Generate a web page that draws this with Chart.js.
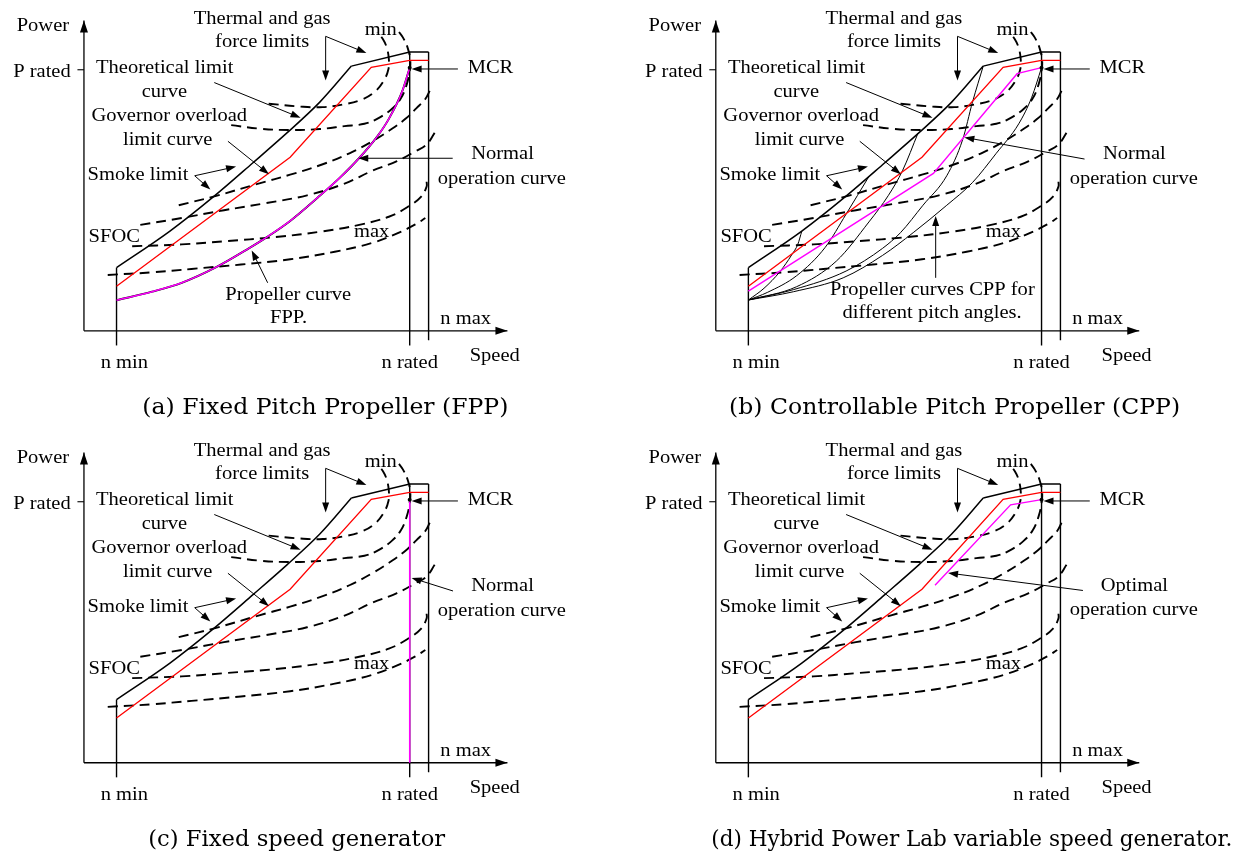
<!DOCTYPE html>
<html>
<head>
<meta charset="utf-8">
<script src="https://cdn.jsdelivr.net/npm/chart.js@4.4.1/dist/chart.umd.min.js"></script>
<style>
  html, body { margin: 0; padding: 0; background: #fff; width: 1240px; height: 857px; overflow: hidden; }
  .panel { position: absolute; }
  canvas { display: block; }
</style>
</head>
<body>
<div class="panel" style="left:0;top:0"><canvas id="ca" width="620" height="432"></canvas></div>
<div class="panel" style="left:620px;top:0"><canvas id="cb" width="620" height="432"></canvas></div>
<div class="panel" style="left:0;top:432px"><canvas id="cc" width="620" height="425"></canvas></div>
<div class="panel" style="left:620px;top:432px"><canvas id="cd" width="620" height="425"></canvas></div>
<script>
// ---- Operating envelope (speed in % of rated, power in % of rated) ----
const nMin = 10, nRated = 100, nMax = 105.8, pRated = 100;
const axisTop = 118.9, axisRight = 130;

const theoreticalLimit = [[10,24.2],[26.4,38.2],[39.7,51.3],[51.8,64.3],[62.4,75.9],[72.4,87.6],[82.1,101.4]];
const thermalLimit     = [[82.1,101.4],[100,106.8],[105.8,106.8]];
const governorLimit    = [[10,17.1],[63.3,66.5],[88.2,100.9],[100,103.6],[105.8,103.6]];
const mcrPoint         = [[100,100.8]];

// SFOC contour lines, from the minimum island outwards
const sfocMin = [[56.7,87.0],[66.4,85.9],[73.3,85.7],[80,86.8],[85.5,88.7],[89.4,91.7],[92.1,95.9],[93.5,100.4],[93.6,104.1],[93,108.3],[91.8,111.7],[90,114.3]];
const sfoc2   = [[45.2,78.8],[54.2,77.4],[63.3,76.9],[72.4,77.3],[80,78.4],[86.1,79.3],[90,81.2],[94.5,85],[97.3,89.1],[99.1,94.4],[100,99.6],[100.2,103.4],[99.4,108.3],[97.9,112.4],[96.4,115]];
const sfoc3   = [[29.1,48.1],[40.6,51.7],[53.3,56.3],[63.3,59.8],[73.3,63.8],[81.5,68],[88.5,72.6],[94.2,77.1],[98.8,81.3],[102.1,85.3],[104.8,88.8],[106.2,92.1]];
const sfoc4   = [[17.3,40.6],[30,43.2],[43,46.2],[55.8,48.9],[68.5,51.9],[80,56.4],[88.5,61.3],[96.1,65.0],[101.8,68.8],[105.2,71.4],[107.7,75.9]];
const sfoc5   = [[14.8,32.4],[30,33.1],[43,34.3],[58.8,35.9],[73.3,38.1],[84.5,40.6],[93.6,43.7],[99.7,47.7],[103.6,51.5],[105.2,55.3],[105.2,57.1]];
const sfocMax = [[7.3,21.4],[20.9,22.4],[33,23.7],[48.2,25.4],[63.3,27.4],[77,30.3],[88.5,33.7],[96.7,37.6],[101.8,40.8],[104.8,43.2]];

// (a) fixed pitch propeller law
const propellerFPP = [[10,11.7],[20.9,15.0],[30,18.4],[40.6,24.4],[50.6,31.6],[56.4,36.1],[63.3,42.1],[71.8,51.1],[78.5,58.6],[84.5,66.2],[90,74.4],[93.6,81.2],[97.6,91.4],[100,100.8]];

// (b) controllable pitch propeller curves, one per pitch angle
const cppPitch1 = [[10,11.8],[14.8,16.3],[19.7,22.7],[23.3,29.1],[25.2,33.2],[26.4,38.2]];
const cppPitch2 = [[10,11.8],[15.8,14.7],[24.8,21.1],[33.6,32],[40,44.7],[47,59.1]];
const cppPitch3 = [[10,11.8],[24.8,16.9],[37,26.7],[47,41.7],[53,51.9],[57.3,61.3],[62.1,75.8]];
const cppPitch4 = [[10,11.8],[23.9,15.8],[40,22.9],[51.2,31.6],[56.7,37.6],[63.6,48.1],[70.9,59.4],[75.8,73.3],[78.8,87.6],[82.1,101.4]];
const cppPitch5 = [[10,11.8],[23.9,15.0],[39.1,20.3],[51.2,28.9],[60.6,37.6],[70.9,48.1],[78.8,56.8],[86.1,68.0],[93,79.3],[97,89.5],[100,100.8]];
const operationCPP = [[10,15.2],[66.8,60.3],[92.5,98.5],[100,100.8]];

// (c) fixed speed generator, (d) variable speed generator
const operationFixed  = [[100,0],[100,100.8]];
const operationHybrid = [[67.3,68],[90.5,98.8],[100,100.8]];

// ---- drawing ----
const PX_X = 3.3, PX_Y = 2.66;
const RED = '#ff0000', MAGENTA = '#ff00ff', BLACK = '#000';
const LABEL_FONT = '18px "Liberation Serif", "Times New Roman", serif';
const LABEL_STRETCH = 1.14;
const CAPTION_FONT = '23px "DejaVu Serif", serif';

const pts = a => a.map(([x, y]) => ({x, y}));
function line(data, color, width, extra) {
  return Object.assign({
    data: pts(data), showLine: true, borderColor: color, backgroundColor: color,
    borderWidth: width, pointRadius: 0, fill: false, tension: 0
  }, extra || {});
}
const dashed = d => line(d, BLACK, 1.9, {borderDash: [10, 6], tension: 0.4, order: 6});

function commonDatasets() {
  return [
    line([[0,0],[axisRight,0]], BLACK, 1.3, {order: 9}),
    line([[0,0],[0,axisTop]], BLACK, 1.3, {order: 9}),
    line([[-2,pRated],[0,pRated]], BLACK, 1.1, {order: 9}),
    line([[nMin,-5.6],[nMin,24.2]], BLACK, 1.4, {order: 4}),
    line([[nRated,-5.6],[nRated,106.8]], BLACK, 1.4, {order: 4}),
    line([[nMax,-3.6],[nMax,106.8]], BLACK, 1.4, {order: 4}),
    line(theoreticalLimit, BLACK, 1.5, {cubicInterpolationMode: 'monotone', order: 3}),
    line(thermalLimit, BLACK, 1.5, {order: 3}),
    line(governorLimit, RED, 1.3, {order: 2}),
    line(mcrPoint, BLACK, 0, {showLine: false, pointRadius: 2, order: 0}),
    dashed(sfocMin), dashed(sfoc2), dashed(sfoc3), dashed(sfoc4), dashed(sfoc5), dashed(sfocMax)
  ];
}

const commonLabels = [
  ['Power', -12.6, 116.7], ['P rated', -12.9, 99],
  ['Thermal and gas', 54.7, 119.5], ['force limits', 54.7, 110.5], ['min', 91.1, 115.0],
  ['Theoretical limit', 24.8, 100.4], ['curve', 24.7, 91.4],
  ['Governor overload', 26.2, 82], ['limit curve', 25.7, 72.9],
  ['Smoke limit', 16.6, 59.7], ['SFOC', 9.3, 35.7], ['max', 88.3, 37.6],
  ['MCR', 124.8, 100.5], ['n max', 117.2, 4.4], ['n min', 12.4, -12.4],
  ['n rated', 100, -12.4], ['Speed', 126.1, -9.9]
];
const commonArrows = [
  [74.2,112.8, 74.2,95.9], [74.2,112.8, 86.7,106.4],
  [40,95.1, 66.5,81.6], [44.2,72.6, 56.8,60.0],
  [34,59.4, 46.7,62.9], [34,59.4, 38.8,54.1],
  [114.8,100.3, 100.6,100.3]
];

const panels = [
  { id: 'ca', w: 620, h: 432, ox: 81, oy: 333,
    caption: ['(a) Fixed Pitch Propeller (FPP)', 74.1, -29.6, 366],
    datasets: [
      line(propellerFPP, BLACK, 1.9, {cubicInterpolationMode: 'monotone', order: 1}),
      line(propellerFPP, MAGENTA, 1.5, {cubicInterpolationMode: 'monotone', order: 0})
    ],
    labels: [['Normal', 128.5, 67.8], ['operation curve', 128.3, 58.2],
             ['Propeller curve', 62.7, 13.6], ['FPP.', 62.8, 4.9]],
    arrows: [[113.2,66.1, 84.2,66.1], [56.4,18.4, 51.5,30.8]] },
  { id: 'cb', w: 620, h: 432, ox: 93, oy: 333,
    caption: ['(b) Controllable Pitch Propeller (CPP)', 73.3, -29.6, 451],
    datasets: [
      line(cppPitch1, BLACK, 1, {cubicInterpolationMode: 'monotone', order: 5}),
      line(cppPitch2, BLACK, 1, {cubicInterpolationMode: 'monotone', order: 5}),
      line(cppPitch3, BLACK, 1, {cubicInterpolationMode: 'monotone', order: 5}),
      line(cppPitch4, BLACK, 1, {cubicInterpolationMode: 'monotone', order: 5}),
      line(cppPitch5, BLACK, 1, {cubicInterpolationMode: 'monotone', order: 5}),
      line(operationCPP, MAGENTA, 1.4, {order: 0})
    ],
    labels: [['Normal', 128.5, 67.8], ['operation curve', 128.3, 58.2],
             ['Propeller curves CPP for', 66.5, 15.5], ['different pitch angles.', 66.4, 6.8]],
    arrows: [[113.2,65.8, 76.3,74.1], [67.5,20.3, 67.5,44.0]] },
  { id: 'cc', w: 620, h: 425, ox: 81, oy: 333,
    caption: ['(c) Fixed speed generator', 65.3, -29.6, 297],
    datasets: [ line(operationFixed, MAGENTA, 1.5, {order: 0}) ],
    labels: [['Normal', 128.5, 67.8], ['operation curve', 128.3, 58.2]],
    arrows: [[113.3,65.8, 100.6,70.8]] },
  { id: 'cd', w: 620, h: 425, ox: 93, oy: 333,
    caption: ['(d) Hybrid Power Lab variable speed generator.', 78.6, -29.6, 521],
    datasets: [ line(operationHybrid, MAGENTA, 1.4, {order: 0}) ],
    labels: [['Optimal', 128.5, 67.7], ['operation curve', 128.3, 58.3]],
    arrows: [[112.7,66, 71.3,72.7]] }
];

function arrowHead(ctx, x0, y0, x1, y1, len, half) {
  const a = Math.atan2(y1 - y0, x1 - x0);
  ctx.beginPath();
  ctx.moveTo(x1, y1);
  ctx.lineTo(x1 - len * Math.cos(a) + half * Math.sin(a), y1 - len * Math.sin(a) - half * Math.cos(a));
  ctx.lineTo(x1 - len * Math.cos(a) - half * Math.sin(a), y1 - len * Math.sin(a) + half * Math.cos(a));
  ctx.closePath();
  ctx.fill();
}

function stretchedText(ctx, text, x, y, sx) {
  ctx.save();
  ctx.translate(x, y);
  ctx.scale(sx, 1);
  ctx.fillText(text, 0, 0);
  ctx.restore();
}

const annotate = {
  id: 'annotate',
  afterDatasetsDraw(chart, args, opts) {
    const ctx = chart.ctx, sx = chart.scales.x, sy = chart.scales.y;
    const X = u => sx.getPixelForValue(u), Y = v => sy.getPixelForValue(v);
    ctx.save();
    ctx.fillStyle = BLACK; ctx.strokeStyle = BLACK;
    // axis arrow heads
    arrowHead(ctx, X(0), Y(0), X(axisRight), Y(0), 12, 4);
    arrowHead(ctx, X(0), Y(0), X(0), Y(axisTop), 12, 4);
    // pointer arrows
    ctx.lineWidth = 1;
    opts.arrows.forEach(([u0, v0, u1, v1]) => {
      const x0 = X(u0), y0 = Y(v0), x1 = X(u1), y1 = Y(v1);
      const a = Math.atan2(y1 - y0, x1 - x0);
      ctx.beginPath();
      ctx.moveTo(x0, y0);
      ctx.lineTo(x1 - 6 * Math.cos(a), y1 - 6 * Math.sin(a));
      ctx.stroke();
      arrowHead(ctx, x0, y0, x1, y1, 10, 3.5);
    });
    // labels
    ctx.font = LABEL_FONT;
    ctx.textAlign = 'center';
    ctx.textBaseline = 'middle';
    opts.labels.forEach(([t, u, v]) => stretchedText(ctx, t, X(u), Y(v), LABEL_STRETCH));
    // caption, fitted to its line width
    const [ct, cu, cv, cw] = opts.caption;
    ctx.font = CAPTION_FONT;
    stretchedText(ctx, ct, X(cu), Y(cv), cw / ctx.measureText(ct).width);
    ctx.restore();
  }
};

panels.forEach(p => {
  new Chart(document.getElementById(p.id), {
    type: 'scatter',
    data: { datasets: commonDatasets().concat(p.datasets) },
    options: {
      responsive: false, animation: false, events: [],
      layout: { padding: 0 },
      plugins: {
        legend: { display: false }, tooltip: { enabled: false },
        annotate: { labels: commonLabels.concat(p.labels), arrows: commonArrows.concat(p.arrows), caption: p.caption }
      },
      scales: {
        x: { type: 'linear', display: false, min: -p.ox / PX_X, max: (p.w - p.ox) / PX_X },
        y: { type: 'linear', display: false, min: -(p.h - p.oy) / PX_Y, max: p.oy / PX_Y }
      }
    },
    plugins: [annotate]
  });
});
</script>
</body>
</html>
